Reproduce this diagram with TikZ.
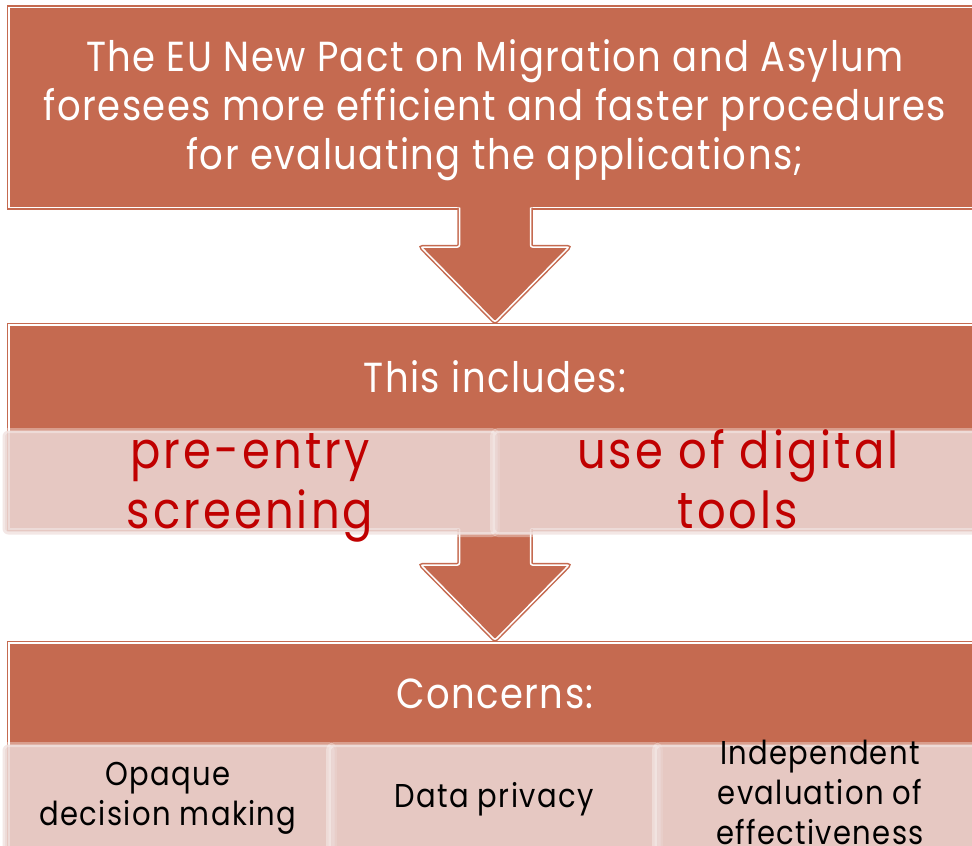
\documentclass[tikz,border=0pt]{standalone}
\usepackage{fontspec}
\setmainfont{Poppins}[FakeStretch=0.88]
\newfontfamily\headfont{Poppins}[FakeStretch=0.88, LetterSpace=3.5]
\newfontfamily\keyfont{Poppins}[FakeStretch=0.88, LetterSpace=6]
\newfontfamily\concfont{Poppins}[FakeStretch=0.88, LetterSpace=4]
\usetikzlibrary{calc}

\definecolor{rust}{RGB}{197,106,80}
\definecolor{blush}{RGB}{235,214,211}
\definecolor{deepred}{RGB}{192,0,0}

% block arrow from the bottom edge of one panel to the top of the next
\newcommand\blockarrow[2]{%
  \fill[rust] ($(#1)+(-35.5,-6)$) -- ($(#2)+(-35.5,-75)$) -- ($(#2)+(-74,-75)$)
    -- (#2) -- ($(#2)+(74,-75)$) -- ($(#2)+(35.5,-75)$) -- ($(#1)+(35.5,-6)$) -- cycle;
  \draw[rim, rounded corners=2pt] (#1) ++(-35.5,0) -- ($(#2)+(-35.5,-75)$) -- ($(#2)+(-74,-75)$)
    -- (#2) -- ($(#2)+(74,-75)$) -- ($(#2)+(35.5,-75)$) -- ($(#1)+(35.5,0)$);
}

\begin{document}
\begin{tikzpicture}[x=1pt, y=-1pt,
  rim/.style={draw=rust, double=white, double distance=1.5pt, line width=1.5pt},
  panel/.style={rim, fill=rust, outer sep=0pt, inner sep=0pt, anchor=north west,
    minimum width=990pt},
  tile/.style={fill=blush, fill opacity=0.87, draw=white, draw opacity=0.35,
    line width=5pt, rounded corners=6pt, outer sep=0pt, inner sep=0pt, anchor=north west},
  heading/.style={text=white, align=center, inner sep=0pt,
    font=\headfont\fontsize{42}{49}\selectfont},
  keyword/.style={text=deepred, align=center, inner sep=0pt,
    font=\keyfont\fontsize{51}{60}\selectfont},
  concern/.style={text=black, align=center, inner sep=0pt,
    font=\concfont\fontsize{33}{40}\selectfont}]

\useasboundingbox (0,0) rectangle (972,846);
\clip (0,0) rectangle (972,846);
\fill[white] (0,0) rectangle (972,846);

\coordinate (axis) at (495,0);

% three stacked panels
\node[panel, minimum height=200pt] (pact) at (9,7.5) {};
\node[panel, minimum height=204pt] (incl) at (9,325) {};
\node[panel, minimum height=260pt] (conc) at (9,643) {};

% arrows between the panels
\coordinate (a1top) at (axis |- pact.south);
\coordinate (a1tip) at ($(axis |- incl.north)+(0,-3)$);
\coordinate (a2top) at (axis |- incl.south);
\coordinate (a2tip) at ($(axis |- conc.north)+(0,-3)$);
\blockarrow{a1top}{a1tip}
\blockarrow{a2top}{a2tip}

% translucent tiles
\node[tile, minimum width=495pt, minimum height=104pt] (pre) at (2.5,430.5) {};
\node[tile, minimum width=495pt, minimum height=104pt] (dig) at (492.5,430.5) {};
\node[tile, minimum width=332pt, minimum height=150pt] (opq) at (2.5,744.5) {};
\node[tile, minimum width=332pt, minimum height=150pt] (dat) at (328.5,744.5) {};
\node[tile, minimum width=332pt, minimum height=150pt] (ind) at (654.5,744.5) {};

% texts
\node[heading] (pactT) at (495,110.5)
  {The EU New Pact on Migration and Asylum\\foresees more efficient and faster procedures\\for evaluating the applications;};
\node[heading, anchor=base] (inclT) at (495,392) {This includes:};
\node[keyword] (preT) at (250,488) {pre-entry\\screening};
\node[keyword] (digT) at (738,479) {use of digital\\tools};
\node[heading, anchor=base] (concT) at (495,708) {Concerns:};
\node[concern] (opqT) at (168,798.5) {Opaque\\decision making};
\node[concern, anchor=base] (datT) at (494,807) {Data privacy};
\node[concern] (indT) at (820,792.5) {Independent\\evaluation of\\effectiveness};

\end{tikzpicture}
\end{document}
